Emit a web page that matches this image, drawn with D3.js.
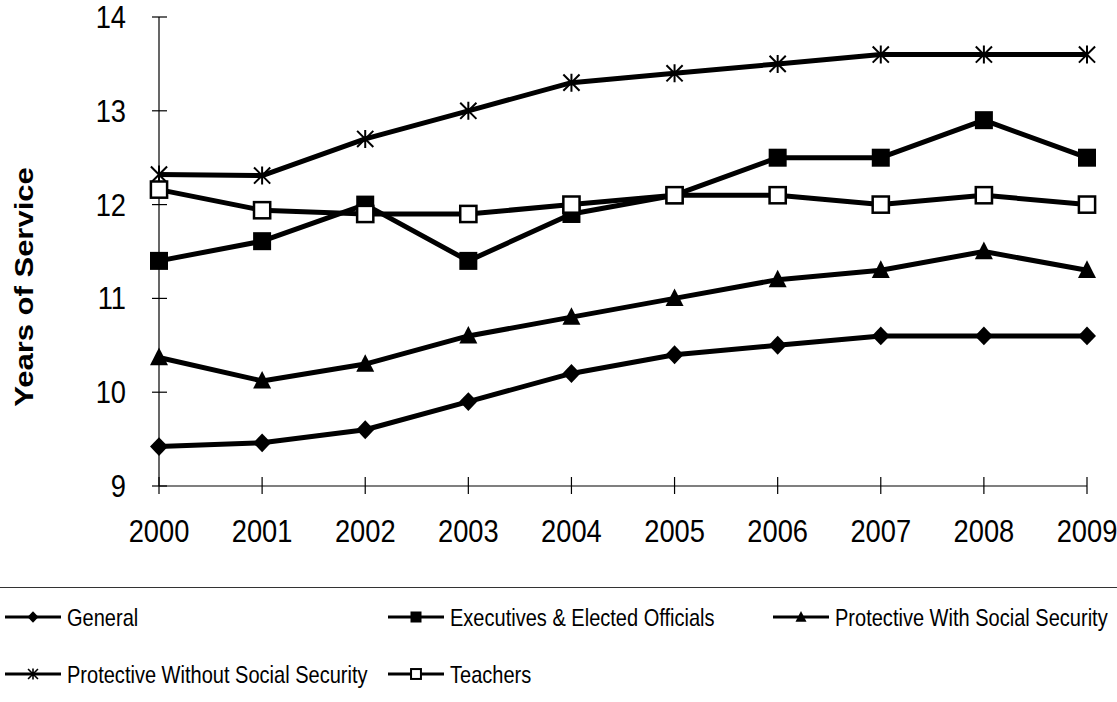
<!DOCTYPE html>
<html><head><meta charset="utf-8">
<script src="https://cdn.jsdelivr.net/npm/d3@7"></script>
<style>body{margin:0;background:#fff}svg{display:block}text{font-family:"Liberation Sans",Arial,sans-serif;fill:#000}</style>
</head><body><svg id="c" width="1117" height="702"></svg>
<script>
const years = [2000,2001,2002,2003,2004,2005,2006,2007,2008,2009];
const yTicks = [9,10,11,12,13,14];
const general = [9.42,9.46,9.6,9.9,10.2,10.4,10.5,10.6,10.6,10.6];
const executives = [11.4,11.61,12.0,11.4,11.9,12.1,12.5,12.5,12.9,12.5];
const protWith = [10.37,10.12,10.3,10.6,10.8,11.0,11.2,11.3,11.5,11.3];
const protWithout = [12.32,12.31,12.7,13.0,13.3,13.4,13.5,13.6,13.6,13.6];
const teachers = [12.16,11.94,11.9,11.9,12.0,12.1,12.1,12.0,12.1,12.0];
const seriesNames = ["General","Executives & Elected Officials","Protective With Social Security","Protective Without Social Security","Teachers"];
const markers = ["diamond","square","triangle","star","opensquare"];
const seriesValues = [general,executives,protWith,protWithout,teachers];

const svg = d3.select("#c");
const x = d3.scalePoint().domain(years).range([159,1087]);
const y = d3.scaleLinear().domain([9,14]).range([486,17]);
const SX = 0.87;

function marker(g, type, size){
  const s=size/2;
  if(type==="diamond") g.append("path").attr("d",`M0,${-s*1.05}L${s},0L0,${s*1.05}L${-s},0Z`).attr("fill","#000");
  else if(type==="square") g.append("rect").attr("x",-s).attr("y",-s).attr("width",size).attr("height",size).attr("fill","#000");
  else if(type==="triangle") g.append("path").attr("d",`M0,${-s*1.1}L${s},${s*0.85}L${-s},${s*0.85}Z`).attr("fill","#000");
  else if(type==="opensquare") g.append("rect").attr("x",-s*0.9).attr("y",-s*0.9).attr("width",size*0.9).attr("height",size*0.9).attr("fill","#fff").attr("stroke","#000").attr("stroke-width",size>12?2.5:2);
  else if(type==="star"){
    const p=s, q=s*0.9;
    g.append("path").attr("d",`M${-q},${-q}L${q},${q}M${q},${-q}L${-q},${q}M0,${-p}L0,${p}`).attr("stroke","#000").attr("stroke-width",size>12?2:1.6).attr("fill","none");
  }
}

// axes
const ax = svg.append("g");
ax.append("line").attr("x1",x(2000)).attr("x2",x(2000)).attr("y1",y(14)).attr("y2",y(9)).attr("stroke","#000").attr("stroke-width",1.2);
ax.append("line").attr("x1",x(2000)).attr("x2",x(2009)).attr("y1",y(9)).attr("y2",y(9)).attr("stroke","#000").attr("stroke-width",1.2);
yTicks.forEach(t=>{
  ax.append("line").attr("x1",x(2000)-7).attr("x2",x(2000)+8).attr("y1",y(t)).attr("y2",y(t)).attr("stroke","#000").attr("stroke-width",1.2);
  ax.append("text").attr("transform",`translate(126,${y(t)+11}) scale(0.88,1)`).attr("text-anchor","end").attr("font-size",31).text(t);
});
years.forEach(t=>{
  ax.append("line").attr("x1",x(t)).attr("x2",x(t)).attr("y1",y(9)-9).attr("y2",y(9)+8).attr("stroke","#000").attr("stroke-width",1.2);
  ax.append("text").attr("transform",`translate(${x(t)},${542}) scale(0.88,1)`).attr("text-anchor","middle").attr("font-size",31).text(t);
});
svg.append("text").attr("transform","translate(33,287) rotate(-90) scale(1,0.86)").attr("text-anchor","middle").attr("font-size",31).attr("font-weight","bold").text("Years of Service");

// lines
const line = d3.line().x((d,i)=>x(years[i])).y(d=>y(d));
seriesValues.forEach((vals,si)=>{
  svg.append("path").attr("d",line(vals)).attr("fill","none").attr("stroke","#000").attr("stroke-width",5).attr("stroke-linejoin","round");
});
seriesValues.forEach((vals,si)=>{
  vals.forEach((v,i)=>{
    const g = svg.append("g").attr("transform",`translate(${x(years[i])},${y(v)})`);
    marker(g, markers[si], 18);
  });
});

// separator
svg.append("line").attr("x1",0).attr("x2",1117).attr("y1",587.5).attr("y2",587.5).attr("stroke","#333").attr("stroke-width",1.2);

// legend
const legPos = [[5,617],[388,617],[773,617],[5,674],[388,674]];
seriesNames.forEach((n,i)=>{
  const [lx,ly]=legPos[i];
  const g = svg.append("g");
  g.append("line").attr("x1",lx).attr("x2",lx+56).attr("y1",ly).attr("y2",ly).attr("stroke","#000").attr("stroke-width",3);
  const mg = g.append("g").attr("transform",`translate(${lx+28},${ly})`);
  marker(mg, markers[i], 11);
  g.append("text").attr("transform",`translate(${lx+62},${ly+8.5}) scale(0.835,1)`).attr("font-size",24).text(n);
});
</script></body></html>
